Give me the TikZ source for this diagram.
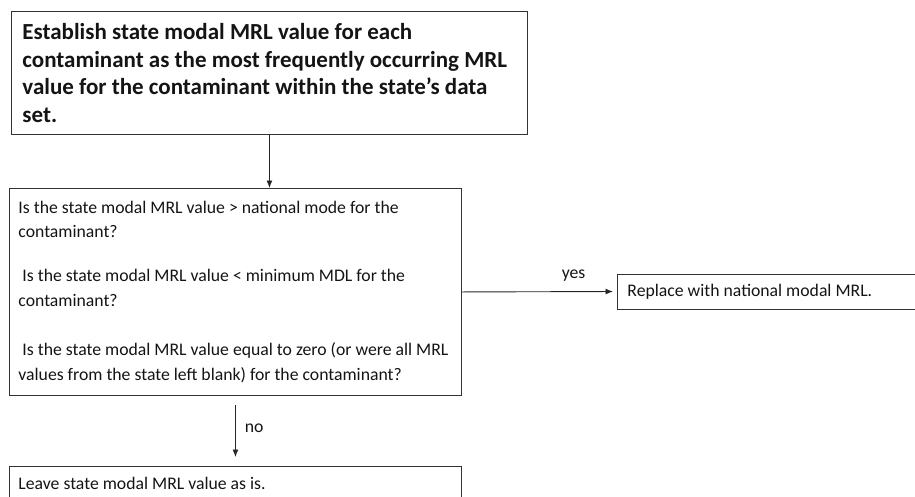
\documentclass[tikz,border=0pt]{standalone}
\usepackage{fontspec}
\setmainfont{Carlito}
\usetikzlibrary{arrows.meta,positioning}

\begin{document}
\begin{tikzpicture}[x=1pt,y=-1pt,
  flowbox/.style={draw=black!80,line width=0.9pt,anchor=north west,align=flush left,inner xsep=9pt,inner ysep=0pt,text=black!92},
  flowarrow/.style={draw=black!85,line width=0.9pt,-{Latex[length=7.5pt,width=6pt]}},
  flowlabel/.style={font=\fontsize{17.7}{20}\selectfont,text=black!92,inner sep=0pt}]
\useasboundingbox (0,0) rectangle (915,496);

%establish
\node[flowbox,inner xsep=11pt,text width=494pt,minimum height=123pt,font=\fontsize{23}{27.5}\selectfont\bfseries] (establish) at (11,11)
  {Establish state modal MRL value for each\\
   contaminant as the most frequently occurring MRL\\
   value for the contaminant within the state’s data\\
   set.};

%questions
\node[flowbox,text width=434pt,minimum height=207pt,font=\fontsize{17.7}{24.5}\selectfont] (questions) at (9,188)
  {Is the state modal MRL value > national mode for the\\
   contaminant?\\[19.5pt]
   \hspace*{4pt}Is the state modal MRL value < minimum MDL for the\\
   contaminant?\\[25pt]
   \hspace*{4pt}Is the state modal MRL value equal to zero (or were all MRL\\
   values from the state left blank) for the contaminant?};

%replace
\node[flowbox,anchor=west,inner xsep=10pt,text width=283pt,minimum height=35pt,font=\fontsize{17.7}{20}\selectfont] (replace) at (617,291.5)
  {Replace with national modal MRL.};

%leave
\node[flowbox,text width=434pt,minimum height=34pt,font=\fontsize{17.7}{20}\selectfont] (leave) at (9,466)
  {Leave state modal MRL value as is.};

%arrows
\draw[flowarrow] (establish.south) -- (establish.south |- questions.north);
\draw[flowarrow,shorten >=4pt] (questions.east) -- (replace.west)
  node[flowlabel,pos=0.72,above=10pt] (yes) {yes};
\draw[flowarrow,shorten <=9pt,shorten >=9pt] (questions.south) -- (leave.north)
  node[flowlabel,midway,right=9pt,yshift=3pt] (no) {no};
\end{tikzpicture}
\end{document}
